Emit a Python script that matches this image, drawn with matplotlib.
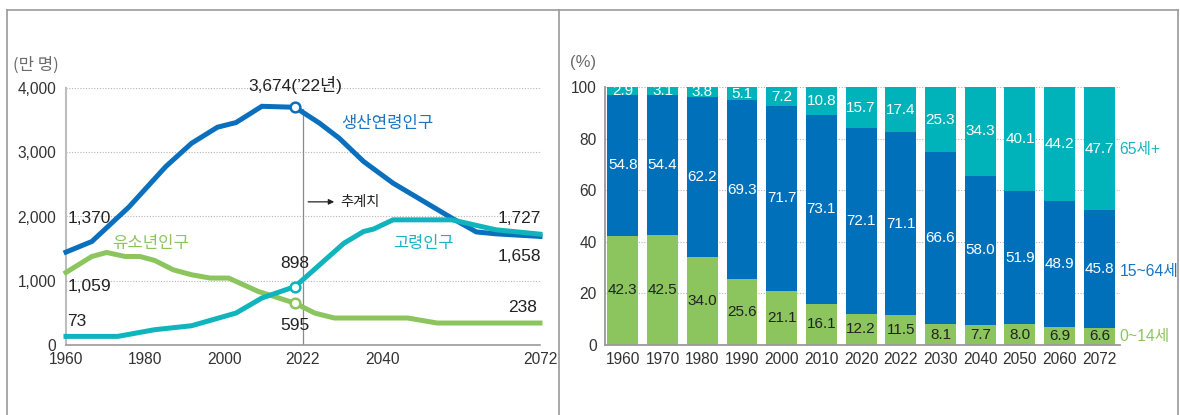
import numpy as np
import matplotlib
matplotlib.use("Agg")
from matplotlib import pyplot as plt
from matplotlib.lines import Line2D

plt.rcParams["font.family"] = ["Liberation Sans", "Noto Sans CJK KR", "DejaVu Sans"]
KR = ["Noto Sans CJK KR", "DejaVu Sans"]

BLUE = "#0a6fbd"
TEAL = "#0fb4bc"
GREEN = "#8cc55e"
TXT = "#333333"

# left chart: population by age group (10,000 persons)
work_years = [1960, 1967, 1977, 1987, 1994, 2001, 2006, 2013, 2022, 2027, 2031, 2036, 2042, 2054, 2059, 2063, 2072]
work_pop = [1446, 1611, 2146, 2777, 3141, 3390, 3462, 3715, 3700, 3452, 3219, 2855, 2519, 1975, 1760, 1730, 1690]
old_years = [1960, 1974, 1984, 1994, 2006, 2013, 2022, 2032, 2036, 2038, 2042, 2054, 2063, 2072]
old_pop = [134, 134, 238, 300, 497, 731, 910, 1586, 1767, 1804, 1948, 1948, 1793, 1725]
young_years = [1960, 1967, 1971, 1976, 1980, 1984, 1989, 1994, 1999, 2004, 2012, 2022, 2026, 2030, 2045, 2051, 2072]
young_pop = [1129, 1378, 1440, 1378, 1378, 1316, 1171, 1093, 1042, 1042, 834, 650, 497, 420, 420, 342, 342]
line_ticks = ["1960", "1980", "2000", "2022", "2040", "2072"]

# right chart: share by age group (%)
bar_years = ["1960", "1970", "1980", "1990", "2000", "2010", "2020", "2022", "2030", "2040", "2050", "2060", "2072"]
share_young = [42.3, 42.5, 34.0, 25.6, 21.1, 16.1, 12.2, 11.5, 8.1, 7.7, 8.0, 6.9, 6.6]
share_work = [54.8, 54.4, 62.2, 69.3, 71.7, 73.1, 72.1, 71.1, 66.6, 58.0, 51.9, 48.9, 45.8]
share_old = [2.9, 3.1, 3.8, 5.1, 7.2, 10.8, 15.7, 17.4, 25.3, 34.3, 40.1, 44.2, 47.7]


def yr(y):
    # the source axis is not linear in years
    return np.interp(y, [1960, 2022, 2072], [0, 2.9, 6])


fig = plt.figure(figsize=(11.8, 4.15), dpi=100)

# frame lines
for xs, ys in [([7, 1178], [405, 405]), ([7, 7], [0, 405]), ([559, 559], [0, 405]), ([1178, 1178], [0, 405])]:
    fig.add_artist(Line2D(np.array(xs) / 1180, np.array(ys) / 415, color="#9a9a9a", lw=1.2))

# ---------- left ----------
ax = fig.add_axes([66 / 1180, 70 / 415, 474 / 1180, 257 / 415])
ax.set_xlim(0, 6)
ax.set_ylim(0, 4000)
for g in [1000, 2000, 3000, 4000]:
    ax.axhline(g, color="#b5b5b5", lw=0.8, ls=(0, (1, 1.5)), zorder=0)
ax.axvline(3, ymax=3680 / 4000, color="#8a8a8a", lw=0.9, zorder=1)

ax.plot(yr(young_years), young_pop, color=GREEN, lw=3.6, solid_joinstyle="miter", clip_on=False, zorder=3)
ax.plot(yr(old_years), old_pop, color=TEAL, lw=3.6, solid_joinstyle="miter", clip_on=False, zorder=4)
ax.plot(yr(work_years), work_pop, color=BLUE, lw=3.6, solid_joinstyle="miter", clip_on=False, zorder=3)
for ys, vs, c in [(work_years, work_pop, BLUE), (old_years, old_pop, TEAL), (young_years, young_pop, GREEN)]:
    v = vs[ys.index(2022)]
    ax.plot(yr(2022), v, "o", ms=7, mfc="white", mec=c, mew=1.8, zorder=5)

for s in ["top", "right"]:
    ax.spines[s].set_visible(False)
ax.spines["left"].set_color("#bdbdbd")
ax.spines["bottom"].set_color("#9a9a9a")
ax.spines["left"].set_linewidth(1.5)
ax.spines["bottom"].set_linewidth(1.2)
ax.set_xticks([0, 1, 2, 3, 4, 6], line_ticks)
ax.set_yticks([0, 1000, 2000, 3000, 4000], ["0", "1,000", "2,000", "3,000", "4,000"])
ax.tick_params(length=0, labelsize=11.2, colors=TXT)
ax.tick_params(axis="y", pad=7)
ax.tick_params(axis="x", pad=5)

lab = dict(fontsize=12.5, color="#222222", va="center")
ax.text(0.015, 1975, "1,370", ha="left", **lab)
ax.text(0.015, 917, "1,059", ha="left", **lab)
ax.text(0.015, 373, "73", ha="left", **lab)
ax.text(2.9, 1275, "898", ha="center", **lab)
ax.text(2.9, 311, "595", ha="center", **lab)
ax.text(6.01, 1975, "1,727", ha="right", **lab)
ax.text(6.01, 1384, "1,658", ha="right", **lab)
ax.text(5.96, 591, "238", ha="right", **lab)
ax.text(2.9, 4043, "3,674(\u201922년)", ha="center", **lab)
ax.text(3.48, 3452, "생산연령인구", ha="left", va="center", fontsize=12, color="#1a74c2", family=KR)
ax.text(0.58, 1586, "유소년인구", ha="left", va="center", fontsize=12, color=GREEN, family=KR)
ax.text(4.14, 1586, "고령인구", ha="left", va="center", fontsize=11.8, color="#19b5bf", family=KR)
ax.annotate("", xy=(3.43, 2228), xytext=(3.03, 2228),
            arrowprops=dict(arrowstyle="-|>", color="#222222", lw=0.9, mutation_scale=8))
ax.text(3.47, 2228, "추계치", ha="left", va="center", fontsize=10.3, color="#222222", family=KR)
fig.text(13 / 1180, 1 - 65 / 415, "(만 명)", ha="left", va="center", fontsize=12, color="#6b6b6b", family=KR)

# ---------- right ----------
bx = fig.add_axes([605 / 1180, 70 / 415, 515 / 1180, 257.7 / 415])
x = np.arange(len(bar_years))
bx.set_xlim(-0.45, 12.52)
bx.set_ylim(0, 100)
for g in [20, 40, 60, 80, 100]:
    bx.axhline(g, color="#b5b5b5", lw=0.8, ls=(0, (1, 1.5)), zorder=0)
w = 0.78
young = np.array(share_young)
work = np.array(share_work)
old = np.array(share_old)
bx.bar(x, young, w, color=GREEN, zorder=2)
bx.bar(x, work, w, bottom=young, color="#0070bb", zorder=2)
bx.bar(x, old, w, bottom=young + work, color="#00b3bb", zorder=2)
nl = dict(ha="center", va="center", fontsize=11)
for i in x:
    bx.text(i, young[i] / 2, f"{young[i]:.1f}", color="#222222", **nl)
    bx.text(i, young[i] + work[i] / 2, f"{work[i]:.1f}", color="white", **nl)
    bx.text(i, young[i] + work[i] + old[i] / 2, f"{old[i]:.1f}", color="white", **nl)

for s in ["top", "right"]:
    bx.spines[s].set_visible(False)
bx.spines["left"].set_color("#9a9a9a")
bx.spines["bottom"].set_color("#9a9a9a")
bx.spines["left"].set_linewidth(1.3)
bx.spines["bottom"].set_linewidth(1.3)
bx.set_xticks(x, bar_years)
bx.set_yticks([0, 20, 40, 60, 80, 100])
bx.tick_params(length=0, labelsize=11.2, colors=TXT)
bx.tick_params(axis="y", pad=6)
bx.tick_params(axis="x", pad=5)

side = dict(ha="left", va="center", fontsize=11.3)
bx.text(12.51, 76, "65세+", color="#19b5bf", **side)
bx.text(12.51, 28.5, "15~64세", color="#1a74c2", **side)
bx.text(12.51, 3.2, "0~14세", color=GREEN, **side)
fig.text(570 / 1180, 1 - 63 / 415, "(%)", ha="left", va="center", fontsize=12, color="#6b6b6b")

fig.savefig("out.png", dpi=100)
